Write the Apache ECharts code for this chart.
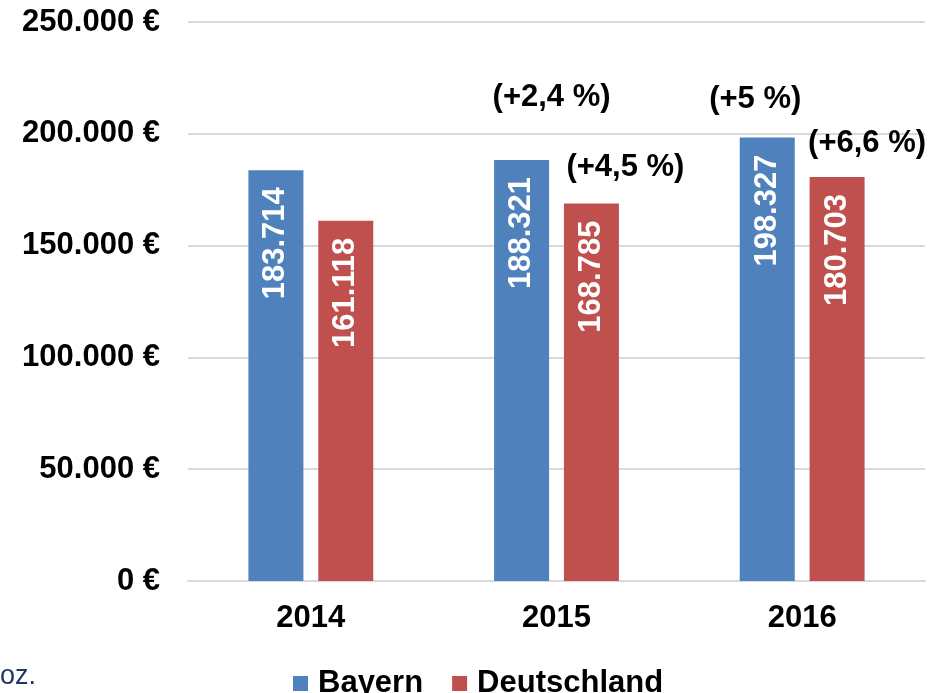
<!DOCTYPE html>
<html>
<head>
<meta charset="utf-8">
<script src="https://cdn.jsdelivr.net/npm/echarts@6/dist/echarts.min.js"></script>
<style>
  html, body { margin: 0; padding: 0; background: #fff; }
  #chart { width: 943px; height: 693px; }
</style>
</head>
<body>
<div id="chart"></div>
<script>
const years = ['2014', '2015', '2016']
const bayern = [183714, 188321, 198327]
const deutschland = [161118, 168785, 180703]
// growth labels vs. previous year
const bayernGrowth = [null, '(+2,4 %)', '(+5 %)']
const deutschlandGrowth = [null, '(+4,5 %)', '(+6,6 %)']
const yTicks = [0, 50000, 100000, 150000, 200000, 250000]

const FONT = '"Liberation Sans", Arial, sans-serif'

function fmt(v) {
  return String(v).replace(/\B(?=(\d{3})+(?!\d))/g, '.')
}

// offsets of the growth texts from the bar tops
const bayernOffsets = [null, [30, -62], [-12, -38]]
const deutschlandOffsets = [null, [34, -36], [30, -33]]

function growthPoints(values, labels, offsets) {
  const pts = []
  values.forEach((v, i) => {
    if (!labels[i]) return
    pts.push({
      coord: [years[i], v],
      label: { formatter: labels[i], offset: offsets[i] }
    })
  })
  return pts
}

const barLabel = {
  show: true,
  position: 'insideTop',
  distance: 17,
  rotate: 90,
  align: 'right',
  verticalAlign: 'middle',
  color: '#fff',
  fontFamily: FONT,
  fontWeight: 'bold',
  fontSize: 31,
  formatter: p => fmt(p.value)
}

const markLabel = {
  show: true,
  position: 'inside',
  color: '#000',
  fontFamily: FONT,
  fontWeight: 'bold',
  fontSize: 31
}

const chart = echarts.init(document.getElementById('chart'), null, { renderer: 'canvas' })
chart.setOption({
  animation: false,
  textStyle: { fontFamily: FONT },
  grid: { left: 188, right: 18, top: 22, bottom: 112 },
  legend: {
    top: 663,
    left: 288,
    icon: 'rect',
    itemWidth: 15,
    itemHeight: 15,
    itemGap: 29,
    textStyle: { fontFamily: FONT, fontWeight: 'bold', fontSize: 31, color: '#000', padding: [0, 0, 0, 5] },
    data: ['Bayern', 'Deutschland']
  },
  graphic: [{
    type: 'text',
    left: 0,
    top: 663,
    style: { text: 'oz.', fill: '#1F3864', font: '27px ' + FONT }
  }],
  xAxis: {
    type: 'category',
    data: years,
    axisTick: { show: false },
    axisLine: { lineStyle: { color: '#D9D9D9', width: 2 } },
    axisLabel: { color: '#000', fontWeight: 'bold', fontSize: 31, margin: 22 }
  },
  yAxis: {
    type: 'value',
    min: yTicks[0],
    max: yTicks[yTicks.length - 1],
    interval: 50000,
    axisLine: { show: false },
    axisTick: { show: false },
    splitLine: { lineStyle: { color: '#D9D9D9', width: 2 } },
    axisLabel: {
      color: '#000', fontWeight: 'bold', fontSize: 31, margin: 28,
      formatter: v => fmt(v) + ' €'
    }
  },
  series: [
    {
      name: 'Bayern',
      type: 'bar',
      data: bayern,
      barWidth: 55,
      barGap: '27%',
      itemStyle: { color: '#4F81BD' },
      label: barLabel,
      markPoint: {
        symbol: 'circle',
        symbolSize: 0,
        label: markLabel,
        data: growthPoints(bayern, bayernGrowth, bayernOffsets)
      }
    },
    {
      name: 'Deutschland',
      type: 'bar',
      data: deutschland,
      barWidth: 55,
      itemStyle: { color: '#C0504D' },
      label: barLabel,
      markPoint: {
        symbol: 'circle',
        symbolSize: 0,
        label: markLabel,
        data: growthPoints(deutschland, deutschlandGrowth, deutschlandOffsets)
      }
    }
  ]
})
</script>
</body>
</html>
